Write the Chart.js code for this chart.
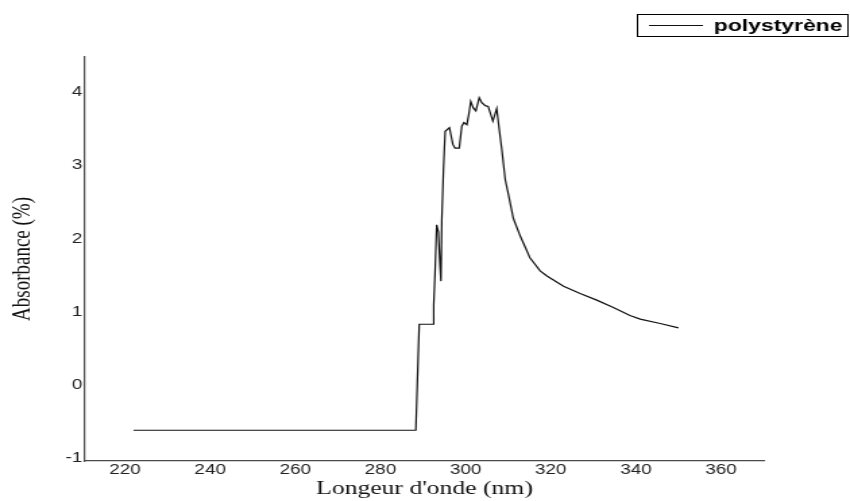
<!DOCTYPE html>
<html lang="fr">
<head>
<meta charset="utf-8">
<title>Absorbance du polystyrène</title>
<script src="https://cdn.jsdelivr.net/npm/chart.js@4.4.1/dist/chart.umd.min.js"></script>
<style>
  html, body { margin: 0; padding: 0; background: #fff; }
</style>
</head>
<body>
<!-- le graphique d'origine est étiré horizontalement : on garde ce rendu -->
<canvas id="myChart" width="630" height="501" style="display:block;width:850px;height:501px"></canvas>
<script>
// Longueurs d'onde (nm)
const longueursOnde = [222, 288.3, 289.1, 292.4, 292.5, 292.8, 293.2, 293.6, 294.0, 294.2, 294.4, 294.8, 295.2,
  296.2, 297.0, 297.5, 298.5, 299.1, 299.6, 300.3, 300.8, 301.2, 301.8, 302.4, 303.2, 303.8, 304.6, 305.3,
  306.4, 307.3, 307.8, 308.5, 309.3, 310.0, 311.2, 312.8, 315.1, 317.5, 319.1, 323.0, 326.9, 330.8, 334.7,
  338.6, 341.0, 345.7, 350.0];

// Absorbance correspondante
const absorbance = [-0.62, -0.62, 0.83, 0.83, 1.1, 1.51, 2.19, 2.09, 1.61, 1.42, 2.26, 2.95, 3.47,
  3.52, 3.29, 3.24, 3.24, 3.54, 3.59, 3.56, 3.72, 3.88, 3.79, 3.75, 3.93, 3.86, 3.82, 3.81,
  3.61, 3.78, 3.54, 3.22, 2.81, 2.62, 2.28, 2.04, 1.74, 1.56, 1.49, 1.35, 1.25, 1.16, 1.06,
  0.95, 0.90, 0.84, 0.78];

// Graduations des axes
const ticksX = [220, 240, 260, 280, 300, 320, 340, 360];
const ticksY = [-1, 0, 1, 2, 3, 4];

const nomSerie = 'polystyrène';
const titreX = "Longeur d'onde (nm)";
const titreY = 'Absorbance (%)';

// Légende encadrée en haut à droite
const legendeEncadree = {
  id: 'legendeEncadree',
  afterDraw(chart) {
    const ctx = chart.ctx;
    const ds = chart.data.datasets[0];
    ctx.save();
    ctx.strokeStyle = '#000';
    ctx.lineWidth = 1;
    ctx.strokeRect(472.5, 14.5, 156, 22);
    ctx.beginPath();
    ctx.moveTo(481, 25.5);
    ctx.lineTo(521, 25.5);
    ctx.strokeStyle = ds.borderColor;
    ctx.lineWidth = ds.borderWidth;
    ctx.stroke();
    ctx.font = 'bold 17px "Liberation Sans", Arial, sans-serif';
    ctx.fillStyle = '#000';
    ctx.textBaseline = 'middle';
    ctx.fillText(ds.label, 529, 26);
    ctx.restore();
  }
};

const ctx = document.getElementById('myChart').getContext('2d');
const myChart = new Chart(ctx, {
  type: 'line',
  data: {
    datasets: [{
      label: nomSerie,
      data: longueursOnde.map((x, i) => ({ x: x, y: absorbance[i] })),
      borderColor: '#111',
      borderWidth: 1.2,
      pointRadius: 0,
      tension: 0,
      fill: false
    }]
  },
  options: {
    responsive: false,
    animation: false,
    events: [],
    layout: { padding: { top: 57, right: 63.7, left: 0, bottom: 0 } },
    plugins: {
      legend: { display: false },
      tooltip: { enabled: false }
    },
    scales: {
      x: {
        type: 'linear',
        min: 210.6,
        max: 370.1,
        afterBuildTicks: (scale) => { scale.ticks = ticksX.map(v => ({ value: v })); },
        afterFit: (scale) => { scale.height = 40; },
        grid: { display: false, drawTicks: false },
        border: { display: true, color: '#4a4a4a', width: 1.2 },
        ticks: {
          padding: 1,
          color: '#222',
          maxRotation: 0,
          font: { family: '"Liberation Sans", Arial, sans-serif', size: 14 }
        },
        title: {
          display: true,
          text: titreX,
          color: '#111',
          padding: { top: 0, bottom: 2 },
          font: { family: '"Liberation Serif", "Times New Roman", serif', size: 19, lineHeight: 1 }
        }
      },
      y: {
        min: -1.041,
        max: 4.486,
        afterBuildTicks: (scale) => { scale.ticks = ticksY.map(v => ({ value: v })); },
        afterFit: (scale) => { scale.width = 63; },
        grid: { display: false, drawTicks: false },
        border: { display: true, color: '#4a4a4a', width: 1.2 },
        ticks: {
          padding: 2,
          color: '#222',
          font: { family: '"Liberation Sans", Arial, sans-serif', size: 14 }
        },
        title: {
          display: true,
          text: titreY,
          color: '#111',
          padding: { top: 7.5, bottom: 0 },
          font: { family: '"Liberation Serif", "Times New Roman", serif', size: 19, lineHeight: 1 }
        }
      }
    }
  },
  plugins: [legendeEncadree]
});
</script>
</body>
</html>
